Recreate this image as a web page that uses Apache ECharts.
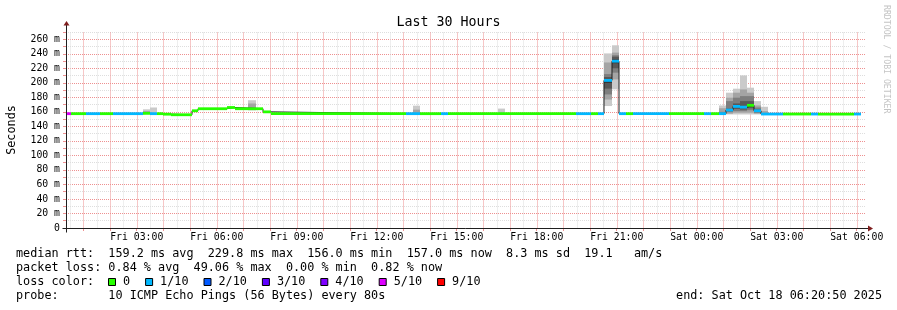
<!DOCTYPE html>
<html><head><meta charset="utf-8">
<script src="https://cdn.jsdelivr.net/npm/echarts@6/dist/echarts.min.js"></script>
<style>html,body{margin:0;padding:0;background:#fff}#c{width:897px;height:310px}</style>
</head><body><div id="c"></div>
<script>
// time unit: hours since Fri 17 Oct 2025 00:00
const windowStart = 0.3472;   // Fri 00:20:50
const windowEnd = 30.3472;    // Sat 06:20:50
const xTickHours = [3, 6, 9, 12, 15, 18, 21, 24, 27, 30];
const xTickLabels = ['Fri 03:00', 'Fri 06:00', 'Fri 09:00', 'Fri 12:00', 'Fri 15:00', 'Fri 18:00', 'Fri 21:00', 'Sat 00:00', 'Sat 03:00', 'Sat 06:00'];
const yMax = 270;
const yTickValues = [0, 20, 40, 60, 80, 100, 120, 140, 160, 180, 200, 220, 240, 260];
const yTickLabels = ['0', '20 m', '40 m', '60 m', '80 m', '100 m', '120 m', '140 m', '160 m', '180 m', '200 m', '220 m', '240 m', '260 m'];

// median rtt (ms) segments: [start hour, end hour, median, loss index]
const medianSegments = [
  [0.347, 0.535, 157.5, 5], [0.535, 1.097, 157.5, 0], [1.097, 1.622, 157.5, 1], [1.622, 2.110, 157.5, 0],
  [2.110, 3.235, 157.5, 1], [3.235, 3.497, 158, 0], [3.497, 3.760, 157.5, 1], [3.760, 3.985, 157.5, 0],
  [3.985, 4.285, 156.8, 0], [4.285, 5.072, 156, 0], [5.072, 5.297, 161.5, 0], [5.297, 6.385, 164.3, 0],
  [6.385, 6.685, 166, 0], [6.685, 7.735, 164.3, 0], [7.735, 8.035, 160, 0], [8.035, 13.097, 157.5, 0],
  [13.097, 13.622, 157.5, 1], [13.622, 14.410, 157.5, 0], [14.410, 14.672, 157.5, 1], [14.672, 19.472, 157.5, 0],
  [19.472, 20.035, 157.5, 1], [20.035, 20.297, 157.5, 0], [20.297, 20.522, 157.5, 1], [20.522, 20.822, 203.3, 1],
  [20.822, 21.085, 229.8, 1], [21.085, 21.347, 157.5, 1], [21.347, 21.610, 157.5, 0], [21.610, 22.960, 157.5, 1],
  [22.960, 24.272, 157.5, 0], [24.272, 24.535, 157.5, 1], [24.535, 24.835, 157.5, 0], [24.835, 25.097, 157.5, 1],
  [25.097, 25.360, 162.5, 1], [25.360, 25.622, 167.5, 1], [25.622, 25.885, 166.5, 1], [25.885, 26.147, 169, 0],
  [26.147, 26.410, 161.5, 1], [26.410, 27.235, 157, 1], [27.235, 28.285, 157, 0], [28.285, 28.547, 157, 1],
  [28.547, 29.897, 157, 0], [29.897, 30.160, 157, 1]
];

// smoke: [start hour, end hour, 10 sorted ping rtts (ms)]
const smokeColumns = [
  [3.235, 3.497, 156.5, 157, 157, 157.5, 157.5, 157.5, 158, 158.5, 161, 163.5],
  [3.497, 3.760, 156, 156.5, 157, 157, 157, 157, 157.5, 157.5, 158, 166],
  [7.172, 7.472, 162, 163, 163.5, 164, 164, 164.5, 165, 165.5, 171.5, 176],
  [13.360, 13.622, 156.5, 157, 157, 157, 157.5, 157.5, 158, 158, 163, 168.5],
  [16.547, 16.810, 156.5, 157, 157, 157, 157.5, 157.5, 158, 158, 159, 164.5],
  [20.522, 20.822, 168, 177, 184, 192, 200, 205, 208, 212, 228, 240.5],
  [20.822, 21.085, 191, 204.7, 214, 220, 227, 232, 236, 238, 241.6, 251.7],
  [24.835, 25.097, 156.4, 157, 157, 157.2, 157.5, 157.8, 158, 160, 165, 168.8],
  [25.097, 25.360, 156.4, 157.5, 159.6, 161, 162, 163, 164.3, 174.8, 179.5, 186.4],
  [25.360, 25.622, 156.4, 158.8, 161, 164, 166.5, 168.5, 171.6, 179.5, 186.4, 191.9],
  [25.622, 25.885, 156.4, 158.8, 161, 163, 165.5, 168, 174.8, 181.7, 190.9, 210.2],
  [25.885, 26.147, 156.4, 158.8, 162.3, 165, 168, 170, 174.8, 181.7, 186.4, 193.3],
  [26.147, 26.410, 156.4, 157.5, 158.5, 160, 161, 162, 163.5, 166, 168.8, 174.8],
  [26.410, 26.672, 156, 156.5, 157, 157, 157, 157, 157.5, 158, 161, 167]
];

const lossLabels = ['0', '1/10', '2/10', '3/10', '4/10', '5/10', '9/10'];
const lossColors = ['#26ff00', '#00b8ff', '#0059ff', '#5e00ff', '#7e00ff', '#dd00ff', '#ff0000'];
const smokeShades = ['#cacaca', '#a4a4a4', '#7e7e7e', '#585858', '#323232'];

const titleText = 'Last 30 Hours';
const yAxisTitle = 'Seconds';
const statsLines = [
  'median rtt:  159.2 ms avg  229.8 ms max  156.0 ms min  157.0 ms now  8.3 ms sd  19.1   am/s',
  'packet loss: 0.84 % avg  49.06 % max  0.00 % min  0.82 % now'
];
const lossRowLabel = 'loss color:';
const probeLine = 'probe:       10 ICMP Echo Pings (56 Bytes) every 80s';
const endLine = 'end: Sat Oct 18 06:20:50 2025';
const watermark = 'RRDTOOL / TOBI OETIKER';

const MONO = '"DejaVu Sans Mono", "Liberation Mono", monospace';
const majorGrid = '#ee9090';
const minorGrid = '#dedede';
const gridDash = [1, 1];

const minorHours = [], majorHours = [];
for (let h = Math.ceil(windowStart * 2) / 2; h <= windowEnd; h += 0.5) (Number.isInteger(h) ? majorHours : minorHours).push(h);

// median line points (step)
const medianPoints = medianSegments.map(s => [s[0], s[2]]);
medianPoints.push([medianSegments[medianSegments.length - 1][1], medianSegments[medianSegments.length - 1][2]]);

const chart = echarts.init(document.getElementById('c'), null, { renderer: 'canvas' });

const option = {
  animation: false,
  backgroundColor: '#ffffff',
  title: {
    text: titleText, left: 'center', top: 11,
    textStyle: { fontFamily: MONO, fontSize: 13.3, fontWeight: 'normal', color: '#000' }
  },
  grid: { left: 66, right: 31, top: 32, bottom: 82, containLabel: false, outerBoundsMode: 'none' },
  xAxis: {
    type: 'value', min: windowStart, max: windowEnd,
    axisLine: { show: false },
    splitLine: { show: false },
    axisTick: { show: true, customValues: majorHours, length: 3, lineStyle: { color: majorGrid } },
    axisLabel: {
      customValues: xTickHours, margin: 4,
      formatter: v => xTickLabels[xTickHours.indexOf(Math.round(v))] || '',
      fontFamily: MONO, fontSize: 9.8, color: '#000'
    }
  },
  yAxis: {
    type: 'value', min: 0, max: yMax, interval: 10,
    name: yAxisTitle, nameLocation: 'middle', nameRotate: 90, nameGap: 48,
    nameTextStyle: { fontFamily: MONO, fontSize: 11.8, color: '#000' },
    axisLine: { show: false },
    axisTick: { show: true, length: 3, lineStyle: { color: majorGrid } },
    axisLabel: {
      margin: 6, fontFamily: MONO, fontSize: 9.8, color: '#000',
      formatter: v => { const i = yTickValues.indexOf(v); return i >= 0 ? yTickLabels[i] : ''; }
    },
    splitLine: { show: true, lineStyle: { color: [majorGrid, minorGrid], type: gridDash, width: 1 } }
  },
  series: [
    {
      name: 'smoke', type: 'custom', z: 2, silent: true,
      data: smokeColumns.map(c => [c[0], c[1], c[2], c[11]]),
      encode: { x: [0, 1], y: [2, 3] },
      renderItem: (params, api) => {
        const col = smokeColumns[params.dataIndex];
        const p = col.slice(2);
        const children = [];
        for (let k = 0; k < 5; k++) {
          const a = api.coord([col[0], p[9 - k]]);
          const b = api.coord([col[1], p[k]]);
          children.push({ type: 'rect', shape: { x: a[0], y: a[1], width: b[0] - a[0], height: b[1] - a[1] }, style: { fill: smokeShades[k] } });
        }
        return { type: 'group', children };
      }
    },
    {
      name: 'median', type: 'line', z: 3, step: 'end', symbol: 'none', silent: true,
      data: medianPoints,
      lineStyle: { color: '#202020', width: 1 }
    },
    {
      name: 'loss', type: 'custom', z: 4, silent: true,
      data: medianSegments.map(s => [s[0], s[1], s[2]]),
      encode: { x: [0, 1], y: 2 },
      renderItem: (params, api) => {
        const s = medianSegments[params.dataIndex];
        const a = api.coord([s[0], s[2]]);
        const b = api.coord([s[1], s[2]]);
        return { type: 'rect', shape: { x: a[0], y: a[1] - 1.4, width: b[0] - a[0], height: 2.8 }, style: { fill: lossColors[s[3]] } };
      }
    }
  ]
};
chart.setOption(option);

// grid lines, axes lines, arrows, legend text
const o = chart.convertToPixel({ xAxisIndex: 0, yAxisIndex: 0 }, [windowStart, 0]);
const tr = chart.convertToPixel({ xAxisIndex: 0, yAxisIndex: 0 }, [windowEnd, yMax]);
const ax = Math.round(o[0]) + 0.5, ay = Math.round(o[1]) + 0.5;
const g = [];
[[minorHours, minorGrid], [majorHours, majorGrid]].forEach(([hours, color]) => {
  hours.forEach(h => {
    const x = Math.round(chart.convertToPixel({ xAxisIndex: 0 }, h)) + 0.5;
    g.push({ type: 'line', silent: true, z: 1, shape: { x1: x, y1: ay, x2: x, y2: tr[1] }, style: { stroke: color, lineWidth: 1, lineDash: gridDash } });
  });
});
g.push({ type: 'line', shape: { x1: ax, y1: ay + 4, x2: ax, y2: tr[1] - 7 }, style: { stroke: '#1f1f1f', lineWidth: 1 }, z: 10 });
g.push({ type: 'line', shape: { x1: ax - 4, y1: ay, x2: tr[0] + 2, y2: ay }, style: { stroke: '#1f1f1f', lineWidth: 1 }, z: 10 });
g.push({ type: 'polygon', shape: { points: [[ax - 3, tr[1] - 6.5], [ax + 3, tr[1] - 6.5], [ax, tr[1] - 11]] }, style: { fill: '#7f1f1f' }, z: 10 });
g.push({ type: 'polygon', shape: { points: [[tr[0] + 2, ay - 3], [tr[0] + 2, ay + 3], [tr[0] + 7, ay]] }, style: { fill: '#7f1f1f' }, z: 10 });

const charW = 7.1;
const fs = 11.8;
const rowY = [254, 268, 282, 296];
statsLines.forEach((t, i) => g.push({ type: 'text', x: 16, y: rowY[i], style: { text: t, fontFamily: MONO, fontSize: fs, fill: '#000', verticalAlign: 'middle' } }));
g.push({ type: 'text', x: 16, y: rowY[2], style: { text: lossRowLabel, fontFamily: MONO, fontSize: fs, fill: '#000', verticalAlign: 'middle' } });
let lx = 108;
lossLabels.forEach((lab, i) => {
  g.push({ type: 'rect', shape: { x: lx + 0.5, y: rowY[2] - 3.5, width: 7, height: 7 }, style: { fill: lossColors[i], stroke: '#000', lineWidth: 1 } });
  g.push({ type: 'text', x: lx + 15, y: rowY[2], style: { text: lab, fontFamily: MONO, fontSize: fs, fill: '#000', verticalAlign: 'middle' } });
  lx += 15 + lab.length * charW + 15;
});
g.push({ type: 'text', x: 16, y: rowY[3], style: { text: probeLine, fontFamily: MONO, fontSize: fs, fill: '#000', verticalAlign: 'middle' } });
g.push({ type: 'text', x: 882, y: rowY[3], style: { text: endLine, fontFamily: MONO, fontSize: fs, fill: '#000', verticalAlign: 'middle', align: 'right' } });
g.push({ type: 'text', x: 886, y: 5, rotation: -Math.PI / 2, style: { text: watermark, fontFamily: MONO, fontSize: 8.2, fill: '#c4c4c4', verticalAlign: 'middle', align: 'left' } });

chart.setOption({ graphic: { elements: g } });
</script>
</body></html>
